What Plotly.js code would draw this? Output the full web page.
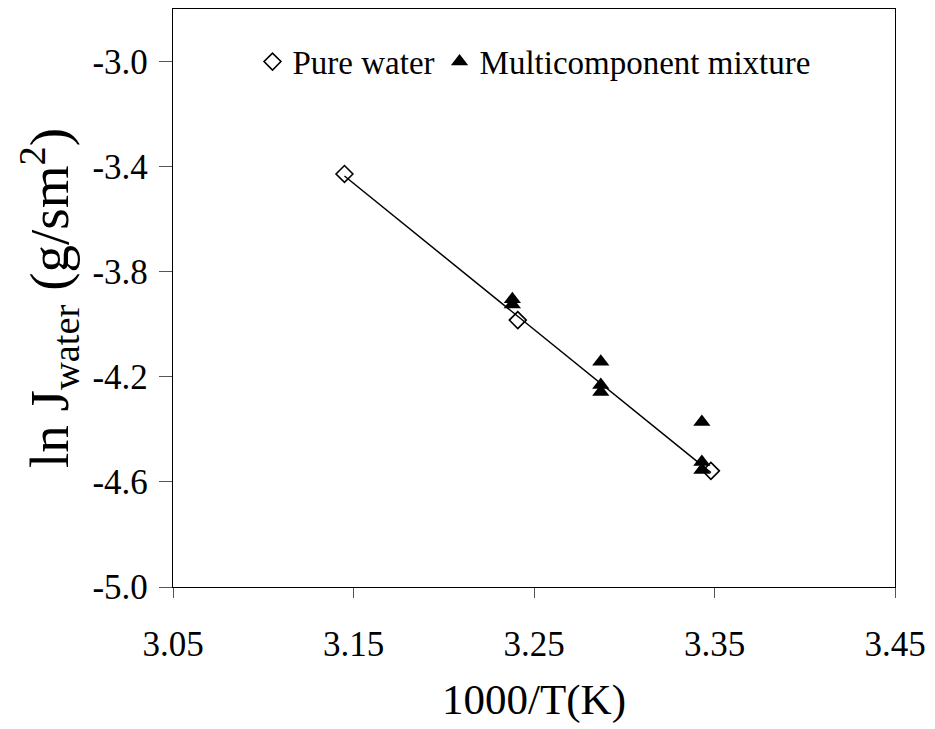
<!DOCTYPE html>
<html>
<head>
<meta charset="utf-8">
<script src="https://cdn.plot.ly/plotly-3.0.1.min.js"></script>
<style>html,body{margin:0;padding:0;background:#fff;}#chart{width:935px;height:729px;}</style>
</head>
<body>
<div id="chart"></div>
<script>
// Pure water data
const pureX = [3.145, 3.241, 3.348];
const pureY = [-3.428, -3.984, -4.558];
// Multicomponent mixture data
const mixX = [3.238, 3.238, 3.287, 3.287, 3.287, 3.343, 3.343, 3.343];
const mixY = [-3.905, -3.925, -4.143, -4.231, -4.258, -4.372, -4.524, -4.555];
// Axis ticks
const xTicks = [3.05, 3.15, 3.25, 3.35, 3.45];
const xTickText = ['3.05', '3.15', '3.25', '3.35', '3.45'];
const yTicks = [-5.0, -4.6, -4.2, -3.8, -3.4, -3.0];
const yTickText = ['-5.0', '-4.6', '-4.2', '-3.8', '-3.4', '-3.0'];

// linear trendline of pure water data (least squares)
const n = pureX.length;
const mx = pureX.reduce((a, b) => a + b, 0) / n;
const my = pureY.reduce((a, b) => a + b, 0) / n;
let sxy = 0, sxx = 0;
for (let i = 0; i < n; i++) { sxy += (pureX[i] - mx) * (pureY[i] - my); sxx += (pureX[i] - mx) ** 2; }
const slope = sxy / sxx, icpt = my - slope * mx;
const trendX = [Math.min(...pureX), Math.max(...pureX)];
const trendY = trendX.map(x => icpt + slope * x);

const font = '"Liberation Serif", serif';
const data = [
  {x: trendX, y: trendY, mode: 'lines', line: {color: '#000', width: 1.5}, showlegend: false, hoverinfo: 'skip'},
  {x: pureX, y: pureY, mode: 'markers', name: 'Pure water',
   marker: {symbol: 'diamond-open', size: 13, color: '#000', line: {width: 1.6, color: '#000'}}},
  {x: mixX, y: mixY, mode: 'markers', name: 'Multicomponent mixture',
   marker: {symbol: 'triangle-up', size: 15, color: '#000', line: {width: 0}}}
];
const layout = {
  width: 935, height: 729,
  margin: {l: 173, r: 40, t: 9, b: 142},
  paper_bgcolor: '#fff', plot_bgcolor: '#fff',
  font: {family: font, color: '#000', size: 34},
  showlegend: true,
  legend: {orientation: 'h', x: 0.5, xanchor: 'center', y: 0.909, yanchor: 'middle',
           font: {family: font, size: 33, color: '#000'}, bgcolor: 'rgba(0,0,0,0)',
           itemwidth: 30, tracegroupgap: 0},
  xaxis: {range: [3.05, 3.45], tickvals: xTicks, ticktext: xTickText, ticks: 'outside', ticklen: 10,
          tickcolor: '#555', tickwidth: 1, showline: true, linecolor: '#000', linewidth: 1.2, mirror: true,
          showgrid: false, zeroline: false, ticklabelstandoff: 16,
          tickfont: {family: font, size: 35, color: '#000'},
          title: {text: '1000/T(K)', font: {family: font, size: 43, color: '#000'}, standoff: 20}},
  yaxis: {range: [-5.0, -2.8], tickvals: yTicks, ticktext: yTickText, ticks: 'outside', ticklen: 13,
          tickcolor: '#555', tickwidth: 1, showline: true, linecolor: '#000', linewidth: 1.2, mirror: true,
          showgrid: false, zeroline: false, ticklabelstandoff: 4,
          tickfont: {family: font, size: 35, color: '#000'},
          title: {text: 'ln J<sub>water</sub> (g/sm<sup>2</sup>)', font: {family: font, size: 55, color: '#000'}, standoff: 6}}
};
Plotly.newPlot('chart', data, layout, {displayModeBar: false, staticPlot: true});
</script>
</body>
</html>
